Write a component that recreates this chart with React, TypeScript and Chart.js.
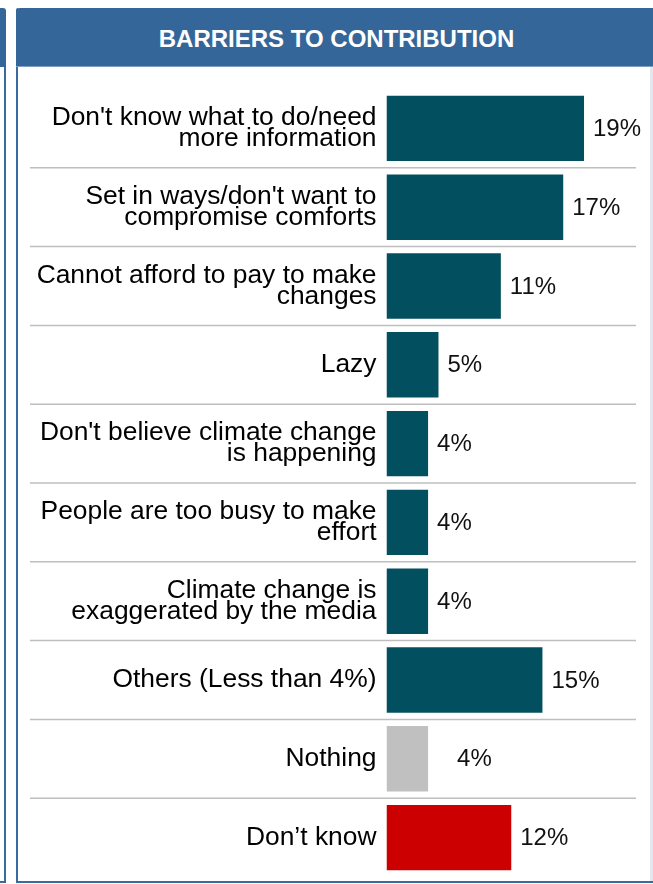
import React, { useEffect, useRef } from "react";
import { Chart, registerables } from "chart.js";

Chart.register(...registerables);

const TITLE = "BARRIERS TO CONTRIBUTION";

const categories: (string | string[])[] = [
  ["Don't know what to do/need", "more information"],
  ["Set in ways/don't want to", "compromise comforts"],
  ["Cannot afford to pay to make", "changes"],
  "Lazy",
  ["Don't believe climate change", "is happening"],
  ["People are too busy to make", "effort"],
  ["Climate change is", "exaggerated by the media"],
  "Others (Less than 4%)",
  "Nothing",
  "Don\u2019t know",
];

const values: number[] = [19, 17, 11, 5, 4, 4, 4, 15, 4, 12];

const valueLabels: string[] = ["19%", "17%", "11%", "5%", "4%", "4%", "4%", "15%", "4%", "12%"];

const xMin = 0;
const xMax = 24;

// styling
const TEAL = "#02505F";
const GREY = "#C0C0C0";
const RED = "#CC0000";
const barColors = [TEAL, TEAL, TEAL, TEAL, TEAL, TEAL, TEAL, TEAL, GREY, RED];
const labelExtraGap = [0, 0, 0, 0, 0, 0, 0, 0, 20, 0];

const FONT = "'Liberation Sans', Arial, Helvetica, sans-serif";

const separatorPlugin = {
  id: "separators",
  beforeDatasetsDraw(chart: any) {
    const ctx = chart.ctx;
    const y = chart.scales.y;
    const area = chart.chartArea;
    ctx.save();
    ctx.strokeStyle = "#BEBEBE";
    ctx.lineWidth = 1.5;
    for (let i = 0; i < categories.length - 1; i++) {
      const yy = (y.getPixelForValue(i) + y.getPixelForValue(i + 1)) / 2;
      ctx.beginPath();
      ctx.moveTo(12, yy);
      ctx.lineTo(area.right, yy);
      ctx.stroke();
    }
    ctx.restore();
  },
};

const valueLabelPlugin = {
  id: "valueLabels",
  afterDatasetsDraw(chart: any) {
    const ctx = chart.ctx;
    const meta = chart.getDatasetMeta(0);
    ctx.save();
    ctx.font = `24px ${FONT}`;
    ctx.fillStyle = "#111111";
    ctx.textAlign = "left";
    ctx.textBaseline = "middle";
    meta.data.forEach((bar: any, i: number) => {
      ctx.fillText(valueLabels[i], bar.x + 9 + labelExtraGap[i], bar.y + 1);
    });
    ctx.restore();
  },
};

function BarChart() {
  const ref = useRef<HTMLCanvasElement | null>(null);
  useEffect(() => {
    if (!ref.current) return;
    const chart = new Chart(ref.current, {
      type: "bar",
      data: {
        labels: categories,
        datasets: [
          {
            data: values,
            backgroundColor: barColors,
            borderWidth: 0,
            categoryPercentage: 1,
            barPercentage: 0.83,
          },
        ],
      },
      options: {
        indexAxis: "y",
        animation: false,
        responsive: false,
        maintainAspectRatio: false,
        layout: { padding: { left: 0, right: 14, top: 22, bottom: 4 } },
        plugins: {
          legend: { display: false },
          tooltip: { enabled: false },
          title: { display: false },
        },
        scales: {
          x: {
            min: xMin,
            max: xMax,
            display: false,
            grid: { display: false },
          },
          y: {
            grid: { display: false, drawTicks: false },
            border: { display: false },
            afterFit: (scale: any) => {
              scale.width = 368.5;
              scale.paddingTop = 0;
              scale.paddingBottom = 0;
            },
            ticks: {
              color: "#000000",
              padding: 10,
              font: { family: FONT, size: 26.4, lineHeight: "21px" as any },
            },
          },
        },
      },
      plugins: [separatorPlugin, valueLabelPlugin],
    });
    return () => chart.destroy();
  }, []);
  return <canvas ref={ref} width={632} height={814} style={{ display: "block" }} />;
}

export default function App() {
  const blue = "#3A6B9F";
  return (
    <div style={{ position: "absolute", left: 0, top: 0, width: 653, height: 884, background: "#fff", overflow: "hidden" }}>
      {/* neighbouring panel edge */}
      <div style={{ position: "absolute", left: 0, top: 8, width: 6, height: 59, background: "#346699", borderTopRightRadius: 3 }} />
      <div style={{ position: "absolute", left: 4, top: 67, width: 2, height: 816, background: blue }} />
      <div style={{ position: "absolute", left: 0, top: 881, width: 6, height: 2, background: blue }} />
      {/* main panel */}
      <div style={{ position: "absolute", left: 16, top: 8, width: 2, height: 875, background: blue, borderTopLeftRadius: 2 }} />
      <div style={{ position: "absolute", left: 16, top: 881, width: 637, height: 2, background: blue }} />
      <div style={{ position: "absolute", left: 650, top: 67, width: 3, height: 814, background: "#E3E8F0" }} />
      <div
        style={{
          position: "absolute",
          left: 16,
          top: 8,
          width: 637,
          height: 59,
          background: "#346699",
          borderTopLeftRadius: 4,
          color: "#fff",
          fontFamily: FONT,
          fontWeight: "bold",
          fontSize: 24,
          lineHeight: "62px",
          textAlign: "center",
          boxSizing: "border-box",
          paddingLeft: 4,
        }}
      >
        {TITLE}
      </div>
      <div style={{ position: "absolute", left: 16, top: 66, width: 637, height: 1, background: "#7F9EC2" }} />
      <div style={{ position: "absolute", left: 18, top: 67 }}>
        <BarChart />
      </div>
    </div>
  );
}
